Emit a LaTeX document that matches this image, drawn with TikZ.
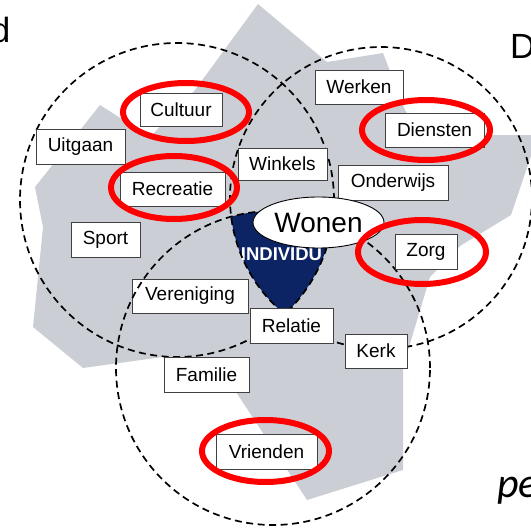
\documentclass[tikz,border=0pt]{standalone}
\usepackage{fontspec}
\setmainfont{Liberation Sans}
\newfontfamily\calfont{Carlito}
\definecolor{greyfill}{HTML}{CBCFD5}
\definecolor{navyfill}{HTML}{0C2463}
\definecolor{ringred}{HTML}{FF0000}
\definecolor{boxline}{HTML}{404040}
\tikzset{
  lbox/.style={draw=boxline, line width=0.9pt, fill=white, inner sep=0pt,
    font=\fontsize{19}{22}\selectfont},
  zone/.style={draw=black, line width=1.7pt, dash pattern=on 7pt off 4.5pt},
  redring/.style={draw=ringred, line width=6pt},
}
\begin{document}
\begin{tikzpicture}[x=1pt,y=-1pt]
\useasboundingbox (0,0) rectangle (531,530);
% grey area
\fill[greyfill] (258,4) -- (327,62) -- (383,53) -- (405,110) -- (420,135) -- (533,135)
  -- (533,150) -- (511,215) -- (460,246) -- (430,277) -- (403,367) -- (403,470)
  -- (307,500) -- (215,360) -- (163,357) -- (83,368) -- (33,327) -- (43,227)
  -- (35,187) -- (100,105) -- (150,137) -- (195,90) -- cycle;
% individu: intersection of the three zones
\begin{scope}
  \clip (177,200) circle[radius=157pt];
  \clip (381,198) circle[radius=151pt];
  \fill[navyfill] (273,368) circle[radius=157pt];
\end{scope}
\node[text=white, font=\bfseries\fontsize{18.5}{20}\selectfont, inner sep=0pt] (individu) at (281.5,254) {INDIVIDU};
% box under the zones
\node[lbox, minimum width=116pt, minimum height=34pt] (vereniging) at (190,296) {Vereniging};
% zones
\draw[zone] (177,200) circle[radius=157pt];
\draw[zone] (381,198) circle[radius=151pt];
\draw[zone] (273,368) circle[radius=157pt];
% boxes
\node[lbox, minimum width=82pt, minimum height=33pt] (cultuur) at (181,109.5) {Cultuur};
\node[lbox, minimum width=89pt, minimum height=35pt] (uitgaan) at (80.5,146.5) {Uitgaan};
\node[lbox, minimum width=105pt, minimum height=34pt] (recreatie) at (172.5,189) {Recreatie};
\node[lbox, minimum width=69pt, minimum height=35pt] (sport) at (105.5,239.5) {Sport};
\node[lbox, minimum width=89pt, minimum height=32pt] (winkels) at (282.5,164) {Winkels};
\node[lbox, minimum width=88pt, minimum height=34pt] (werken) at (359,87) {Werken};
\node[lbox, minimum width=99pt, minimum height=34pt] (diensten) at (434.5,130) {Diensten};
\node[lbox, minimum width=110pt, minimum height=35pt] (onderwijs) at (393,182.5) {Onderwijs};
\node[lbox, minimum width=62pt, minimum height=35pt] (zorg) at (426,251.5) {Zorg};
\node[lbox, minimum width=83pt, minimum height=35pt] (relatie) at (291.5,325.5) {Relatie};
\node[lbox, minimum width=62pt, minimum height=34pt] (kerk) at (376,351) {Kerk};
\node[lbox, minimum width=85pt, minimum height=35pt] (familie) at (206.5,374.5) {Familie};
\node[lbox, minimum width=101pt, minimum height=35pt] (vrienden) at (266.5,451.5) {Vrienden};
% wonen
\draw[fill=white, line width=0.9pt] (318.5,222.5) ellipse[x radius=65.5pt, y radius=25.5pt];
\node[inner sep=0pt, font=\fontsize{28}{30}\selectfont] (wonen) at (318.5,223) {Wonen};
% red rings
\draw[redring] (186,112) ellipse[x radius=63pt, y radius=29pt];
\draw[redring] (174,187.5) ellipse[x radius=63pt, y radius=31.5pt];
\draw[redring] (426,130) ellipse[x radius=64pt, y radius=30pt];
\draw[redring] (422,252) ellipse[x radius=64pt, y radius=32pt];
\draw[redring] (265.5,451) ellipse[x radius=63.5pt, y radius=31pt];
% cut-off title fragments
\node[anchor=base east, inner sep=0pt, font=\fontsize{35}{40}\selectfont] (tl) at (10.5,42) {d};
\node[anchor=base west, inner sep=0pt, font=\fontsize{35}{40}\selectfont] (tr) at (510,58) {D};
\node[anchor=base west, inner sep=0pt, font=\calfont\itshape\fontsize{42}{46}\selectfont] (br) at (497,497) {pe};
\end{tikzpicture}
\end{document}
